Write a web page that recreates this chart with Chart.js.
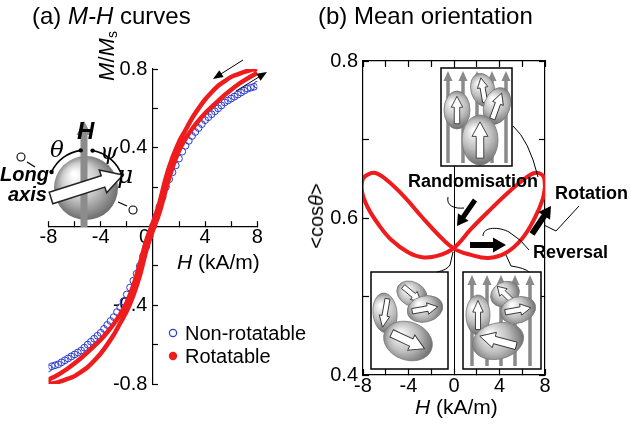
<!DOCTYPE html>
<html>
<head>
<meta charset="utf-8">
<script src="https://cdn.jsdelivr.net/npm/chart.js@4.4.0/dist/chart.umd.min.js"></script>
<style>
body{margin:0;background:#fff;}
#wrap{position:relative;width:630px;height:425px;overflow:hidden;background:#fff;font-family:"Liberation Sans",Arial,sans-serif;color:#000;}
#wrap canvas{position:absolute;top:0;}
.t{position:absolute;white-space:nowrap;line-height:1;}
.rot{position:absolute;white-space:nowrap;line-height:1;transform:translate(-50%,-50%) rotate(-90deg);}
.b{font-weight:bold;}
.g{font-family:"DejaVu Serif","Liberation Serif",serif;font-style:italic;}
</style>
</head>
<body>
<div id="wrap">
<canvas id="mh" width="315" height="425" style="left:0;width:315px;height:425px"></canvas>
<canvas id="cos" width="315" height="425" style="left:315px;width:315px;height:425px"></canvas>

<div class="t" style="left:32px;top:4px;font-size:24px">(a) <i>M-H</i> curves</div>
<div class="t" style="left:318px;top:4px;font-size:24px">(b) Mean orientation</div>

<div class="rot" style="left:107px;top:56px;font-size:22px"><i>M</i>/<i>M</i><span style="font-size:14px;vertical-align:-3px">s</span></div>
<div class="t" style="left:177px;top:251px;font-size:21px"><i>H</i> (kA/m)</div>
<div class="t" style="left:185px;top:323px;font-size:20px">Non-rotatable</div>
<div class="t" style="left:185px;top:346px;font-size:20px">Rotatable</div>

<div class="t b" style="left:77px;top:119px;font-size:24px"><i>H</i></div>
<div class="t g" style="left:50px;top:138px;font-size:23px">θ</div>
<div class="t g" style="left:100px;top:140px;font-size:23px">ψ</div>
<div class="t g" style="left:117px;top:162px;font-size:25px">μ</div>
<div class="t b" style="left:0px;top:164px;font-size:20px"><i>Long</i></div>
<div class="t b" style="left:8px;top:184px;font-size:20px"><i>axis</i></div>

<div class="rot" style="left:316px;top:216px;font-size:20px">&lt;cos<i>θ</i>&gt;</div>
<div class="t" style="left:415px;top:396px;font-size:21px"><i>H</i> (kA/m)</div>
<div class="t b" style="left:408px;top:172px;font-size:18px">Randomisation</div>
<div class="t b" style="left:555px;top:184px;font-size:18px">Rotation</div>
<div class="t b" style="left:533px;top:243px;font-size:18px">Reversal</div>
</div>

<script>
// (a) non-rotatable sample, one sweep
const nonRotH = [-8,-7.75,-7.5,-7.25,-7,-6.75,-6.5,-6.25,-6,-5.75,-5.5,-5.25,-5,-4.75,-4.5,-4.25,-4,-3.75,-3.5,-3.25,-3,-2.75,-2.5,-2.25,-2,-1.75,-1.5,-1.25,-1,-0.75,-0.5,-0.25,
  0,0.25,0.5,0.75,1,1.25,1.5,1.75,2,2.25,2.5,2.75,3,3.25,3.5,3.75,4,4.25,4.5,4.75,5,5.25,5.5,5.75,6,6.25,6.5,6.75,7,7.25,7.5,7.75,8];
const nonRotM = [-0.72,-0.71,-0.705,-0.70,-0.69,-0.68,-0.67,-0.66,-0.65,-0.64,-0.63,-0.615,-0.60,-0.585,-0.57,-0.555,-0.54,-0.52,-0.50,-0.48,-0.46,-0.435,-0.41,-0.38,-0.345,-0.31,-0.275,-0.24,-0.20,-0.15,-0.10,-0.05,
  0,0.05,0.10,0.15,0.20,0.24,0.275,0.31,0.345,0.38,0.41,0.435,0.46,0.48,0.50,0.52,0.54,0.555,0.57,0.585,0.60,0.615,0.63,0.64,0.65,0.66,0.67,0.68,0.69,0.70,0.705,0.71,0.72];

// (a) rotatable sample: field going down, then back up
const descH = [8,7.5,7,6.5,6,5.5,5,4.5,4,3.5,3,2.5,2,1.5,1,0.5,0,-0.5,-1,-1.5,-2,-2.5,-3,-3.5,-4,-4.5,-5,-5.5,-6,-6.5,-7,-7.5,-8];
const descM = [0.80,0.795,0.785,0.773,0.76,0.738,0.715,0.682,0.645,0.60,0.55,0.49,0.43,0.35,0.25,0.12,0.02,
  -0.07,-0.19,-0.30,-0.385,-0.445,-0.495,-0.537,-0.575,-0.607,-0.638,-0.668,-0.695,-0.72,-0.742,-0.762,-0.78];
const ascH = [-8,-7.5,-7,-6.5,-6,-5.5,-5,-4.5,-4,-3.5,-3,-2.5,-2,-1.5,-1,-0.5,0,0.5,1,1.5,2,2.5,3,3.5,4,4.5,5,5.5,6,6.5,7,7.5,8];
const ascM = [-0.80,-0.795,-0.785,-0.773,-0.76,-0.738,-0.715,-0.682,-0.645,-0.60,-0.55,-0.49,-0.43,-0.35,-0.25,-0.12,
  -0.02,0.07,0.19,0.30,0.385,0.445,0.495,0.537,0.575,0.607,0.638,0.668,0.695,0.72,0.742,0.762,0.78];

// (b) mean orientation loop, in sweep order
const loopH =   [8.0,7.9,7.5,7.0,6.4,5.6,4.5,3.0,1.5,0.0,-1.4,-2.8,-4.0,-5.5,-6.6,-7.6,-8.1,-8.0,-7.5,-6.8,-5.8,-4.3,-2.8,-1.4,0.0,1.5,3.0,4.5,6.0,7.1,7.8,8.0];
const loopCos = [0.640,0.652,0.657,0.657,0.652,0.643,0.629,0.608,0.586,0.562,0.552,0.550,0.556,0.572,0.591,0.614,0.635,0.650,0.656,0.657,0.647,0.626,0.601,0.579,0.561,0.553,0.549,0.555,0.574,0.600,0.624,0.640];

const xTicksA = [-8,-4,0,4,8];
const yTicksA = [-0.8,-0.4,0.4,0.8];
const xTicksB = [-8,-4,0,4,8];
const yTicksB = [0.4,0.6,0.8];

const FONT = '"Liberation Sans", Arial, sans-serif';
const pts = (xs, ys) => xs.map((x, i) => ({x: x, y: ys[i]}));
const has = (list, v) => list.some(t => Math.abs(t - v) < 1e-6);
const deg = d => d * Math.PI / 180;

function blockArrow(ctx, x1, y1, x2, y2, shaft, headW, headL, fill, stroke, lw) {
  const a = Math.atan2(y2 - y1, x2 - x1), len = Math.hypot(x2 - x1, y2 - y1);
  ctx.save();
  ctx.translate(x1, y1);
  ctx.rotate(a);
  ctx.beginPath();
  ctx.moveTo(0, -shaft / 2);
  ctx.lineTo(len - headL, -shaft / 2);
  ctx.lineTo(len - headL, -headW / 2);
  ctx.lineTo(len, 0);
  ctx.lineTo(len - headL, headW / 2);
  ctx.lineTo(len - headL, shaft / 2);
  ctx.lineTo(0, shaft / 2);
  ctx.closePath();
  ctx.fillStyle = fill;
  ctx.fill();
  if (stroke) { ctx.strokeStyle = stroke; ctx.lineWidth = lw || 1; ctx.stroke(); }
  ctx.restore();
}

function thinArrow(ctx, x1, y1, x2, y2) {
  const a = Math.atan2(y2 - y1, x2 - x1);
  ctx.beginPath();
  ctx.moveTo(x1, y1);
  ctx.lineTo(x2 - Math.cos(a) * 6, y2 - Math.sin(a) * 6);
  ctx.strokeStyle = '#000';
  ctx.lineWidth = 1;
  ctx.stroke();
  ctx.save();
  ctx.translate(x2, y2);
  ctx.rotate(a);
  ctx.beginPath();
  ctx.moveTo(0, 0);
  ctx.lineTo(-10, -4);
  ctx.lineTo(-10, 4);
  ctx.closePath();
  ctx.fillStyle = '#000';
  ctx.fill();
  ctx.restore();
}

function particle(ctx, cx, cy, rx, ry, rot, arrowDeg) {
  const g = ctx.createRadialGradient(cx - rx * 0.35, cy - ry * 0.4, 1, cx, cy, Math.max(rx, ry) * 1.15);
  g.addColorStop(0, '#ffffff');
  g.addColorStop(0.5, '#bdbdbd');
  g.addColorStop(1, '#5a5a5a');
  ctx.beginPath();
  ctx.ellipse(cx, cy, rx, ry, rot, 0, 2 * Math.PI);
  ctx.fillStyle = g;
  ctx.fill();
  ctx.strokeStyle = '#777';
  ctx.lineWidth = 0.8;
  ctx.stroke();
  const L = Math.max(rx, ry) * 1.45, a = deg(arrowDeg);
  const w = Math.min(rx, ry) * 0.42;
  blockArrow(ctx, cx - Math.cos(a) * L / 2, cy - Math.sin(a) * L / 2, cx + Math.cos(a) * L / 2, cy + Math.sin(a) * L / 2,
    w, w * 2.1, L * 0.4, '#fff', '#333', 0.9);
}

function fieldArrows(ctx, xs, yBottom, yTop) {
  xs.forEach(x => blockArrow(ctx, x, yBottom, x, yTop, 3.5, 9, 10, '#8a8a8a'));
}

function inset(ctx, x, y, w, h, fields, parts) {
  ctx.save();
  ctx.fillStyle = '#fff';
  ctx.fillRect(x, y, w, h);
  if (fields) fieldArrows(ctx, fields, y + h - 3, y + 3);
  parts.forEach(p => particle(ctx, p[0], p[1], p[2], p[3], p[4], p[5]));
  ctx.strokeStyle = '#000';
  ctx.lineWidth = 1.5;
  ctx.strokeRect(x, y, w, h);
  ctx.restore();
}

const sketchA = {
  id: 'sketchA',
  afterDraw(chart) {
    const ctx = chart.ctx;
    ctx.save();
    const cx = 86, cy = 188, r = 32;
    const g = ctx.createRadialGradient(cx - 12, cy - 14, 2, cx, cy, r + 4);
    g.addColorStop(0, '#ffffff');
    g.addColorStop(0.45, '#cdcdcd');
    g.addColorStop(1, '#5c5c5c');
    ctx.beginPath();
    ctx.arc(cx, cy, r, 0, 2 * Math.PI);
    ctx.fillStyle = g;
    ctx.fill();
    blockArrow(ctx, 84, 227, 84, 121, 7, 15, 14, '#8c8c8c');
    ctx.strokeStyle = '#000';
    ctx.lineWidth = 1.6;
    ctx.beginPath(); ctx.arc(cx, cy, 38, deg(205), deg(262)); ctx.stroke();
    ctx.beginPath(); ctx.arc(cx, cy, 38, deg(280), deg(340)); ctx.stroke();
    ctx.fillStyle = '#000';
    [205, 262, 280, 340].forEach(d => {
      ctx.beginPath();
      ctx.arc(cx + 38 * Math.cos(deg(d)), cy + 38 * Math.sin(deg(d)), 2.2, 0, 2 * Math.PI);
      ctx.fill();
    });
    blockArrow(ctx, 51, 198, 123, 175, 12, 24, 21, '#fff', '#222', 1.5);
    // long axis markers
    ctx.lineWidth = 1.3;
    ctx.beginPath(); ctx.moveTo(27, 162); ctx.lineTo(35, 167); ctx.stroke();
    ctx.beginPath(); ctx.moveTo(118, 202); ctx.lineTo(127, 206); ctx.stroke();
    ctx.lineWidth = 1.1;
    ctx.fillStyle = '#fff';
    ctx.beginPath(); ctx.arc(21, 157, 4, 0, 2 * Math.PI); ctx.fill(); ctx.stroke();
    ctx.beginPath(); ctx.arc(133, 210, 4, 0, 2 * Math.PI); ctx.fill(); ctx.stroke();
    // sweep direction
    thinArrow(ctx, 243, 60, 213, 79);
    thinArrow(ctx, 236, 91, 267, 72);
    // legend markers
    ctx.lineWidth = 1.2;
    ctx.strokeStyle = '#2a3bd0';
    ctx.beginPath(); ctx.arc(173, 333, 3.6, 0, 2 * Math.PI); ctx.stroke();
    ctx.fillStyle = '#ee1c1c';
    ctx.beginPath(); ctx.arc(173, 356, 4.2, 0, 2 * Math.PI); ctx.fill();
    ctx.restore();
  }
};

const sketchB = {
  id: 'sketchB',
  afterDraw(chart) {
    const ctx = chart.ctx;
    ctx.save();
    inset(ctx, 126, 68, 71, 98, [133, 148, 162, 177, 191], [
      [142, 110, 13, 19, 0, -90],
      [168, 90, 12, 17, -0.3, -100],
      [182, 106, 13, 19, 0.35, -70],
      [165, 140, 18, 25, 0, -90]
    ]);
    inset(ctx, 56, 272, 77, 97, null, [
      [97, 294, 16, 12, 0.5, 40],
      [70, 313, 12, 20, -0.1, 100],
      [110, 309, 18, 13, -0.25, -10],
      [93, 341, 25, 19, 0.35, 25]
    ]);
    inset(ctx, 148, 272, 78, 97, [157, 172, 186, 200, 215], [
      [163, 315, 12, 20, 0, -90],
      [190, 294, 15, 12, -0.5, -135],
      [203, 310, 18, 13, -0.3, -10],
      [183, 341, 26, 18, -0.25, 195]
    ]);
    // leader lines
    ctx.strokeStyle = '#000';
    ctx.lineWidth = 1;
    ctx.beginPath(); ctx.moveTo(198, 126); ctx.quadraticCurveTo(214, 140, 223, 177); ctx.stroke();
    ctx.beginPath(); ctx.moveTo(133, 197); ctx.bezierCurveTo(131, 206, 140, 209, 149, 208); ctx.stroke();
    ctx.beginPath(); ctx.moveTo(264, 206); ctx.lineTo(241, 231); ctx.lineTo(229, 225); ctx.stroke();
    ctx.beginPath(); ctx.moveTo(168, 236); ctx.bezierCurveTo(168, 226, 185, 227, 194, 232); ctx.quadraticCurveTo(207, 240, 214, 250); ctx.stroke();
    ctx.beginPath(); ctx.moveTo(191, 255); ctx.lineTo(196, 266); ctx.quadraticCurveTo(210, 268, 214, 272); ctx.stroke();
    ctx.beginPath(); ctx.moveTo(138, 252); ctx.lineTo(135, 265); ctx.quadraticCurveTo(132, 270, 122, 272); ctx.stroke();
    // process arrows
    blockArrow(ctx, 160, 200, 142, 226, 5, 13, 11, '#000');
    blockArrow(ctx, 155, 245, 191, 245, 6, 15, 13, '#000');
    blockArrow(ctx, 217, 234, 236, 206, 6, 14, 12, '#000');
    ctx.restore();
  }
};

const tickFont = {size: 20, family: FONT};

new Chart(document.getElementById('mh'), {
  type: 'scatter',
  data: {
    datasets: [
      {
        label: 'Rotatable',
        data: pts(descH, descM).concat(pts(ascH, ascM)),
        showLine: true,
        borderColor: '#ee1c1c',
        borderWidth: 4.5,
        pointRadius: 0,
        tension: 0.3
      },
      {
        label: 'Non-rotatable',
        data: pts(nonRotH, nonRotM),
        showLine: false,
        pointRadius: 3.4,
        pointBorderWidth: 1,
        pointBorderColor: '#2a3bd0',
        pointBackgroundColor: 'rgba(255,255,255,0)'
      }
    ]
  },
  options: {
    responsive: false,
    animation: false,
    layout: {padding: {left: 48.5, right: 57.7, top: 69, bottom: 41}},
    plugins: {legend: {display: false}, tooltip: {enabled: false}},
    scales: {
      x: {
        type: 'linear', min: -8, max: 8, position: {y: 0},
        afterFit: s => { s.height = 0; },
        border: {color: '#000', width: 1.2},
        grid: {drawOnChartArea: false, tickLength: -6, tickColor: '#000', tickWidth: 1.2},
        ticks: {stepSize: 2, autoSkip: false, maxRotation: 0, padding: 5, color: '#000', font: tickFont,
          callback: v => has(xTicksA, v) ? (v === 0 ? '0   ' : String(v)) : ''}
      },
      y: {
        type: 'linear', min: -0.8, max: 0.8, position: {x: 0},
        afterFit: s => { s.width = 0; },
        border: {color: '#000', width: 1.2},
        grid: {drawOnChartArea: false, tickLength: -6, tickColor: '#000', tickWidth: 1.2},
        ticks: {stepSize: 0.2, autoSkip: false, color: '#000', font: tickFont,
          callback: v => has(yTicksA, v) ? v.toFixed(1) + ' ' : ''}
      }
    }
  },
  plugins: [sketchA]
});

const boxTicks = {display: false};
new Chart(document.getElementById('cos'), {
  type: 'scatter',
  data: {
    datasets: [{
      label: '<cos θ>',
      data: pts(loopH, loopCos),
      showLine: true,
      borderColor: '#ee1c1c',
      borderWidth: 4,
      pointRadius: 0,
      tension: 0.4
    }]
  },
  options: {
    responsive: false,
    animation: false,
    layout: {padding: {left: 0, right: 85, top: 61, bottom: 0}},
    plugins: {legend: {display: false}, tooltip: {enabled: false}},
    scales: {
      x: {
        type: 'linear', min: -8, max: 8, position: 'bottom',
        afterFit: s => { s.height = 50; },
        border: {color: '#000', width: 1.2},
        grid: {color: c => (c.tick && c.tick.value === 0) ? '#000' : 'rgba(0,0,0,0)', lineWidth: 1,
          tickLength: -6, tickColor: '#000', tickWidth: 1.2},
        ticks: {stepSize: 2, autoSkip: false, maxRotation: 0, padding: 5, color: '#000', font: tickFont,
          callback: v => has(xTicksB, v) ? String(v) : ''}
      },
      x2: {
        type: 'linear', min: -8, max: 8, position: 'top',
        afterFit: s => { s.height = 0; },
        border: {color: '#000', width: 1.2},
        grid: {drawOnChartArea: false, tickLength: -6, tickColor: '#000', tickWidth: 1.2},
        ticks: Object.assign({stepSize: 2}, boxTicks)
      },
      y: {
        type: 'linear', min: 0.4, max: 0.8, position: 'left',
        afterFit: s => { s.width = 48; },
        border: {color: '#000', width: 1.2},
        grid: {drawOnChartArea: false, tickLength: -6, tickColor: '#000', tickWidth: 1.2},
        ticks: {stepSize: 0.1, autoSkip: false, padding: 11, color: '#000', font: tickFont,
          callback: v => has(yTicksB, v) ? v.toFixed(1) : ''}
      },
      y2: {
        type: 'linear', min: 0.4, max: 0.8, position: 'right',
        afterFit: s => { s.width = 0; },
        border: {color: '#000', width: 1.2},
        grid: {drawOnChartArea: false, tickLength: -6, tickColor: '#000', tickWidth: 1.2},
        ticks: Object.assign({stepSize: 0.1}, boxTicks)
      }
    }
  },
  plugins: [sketchB]
});
</script>
</body>
</html>
